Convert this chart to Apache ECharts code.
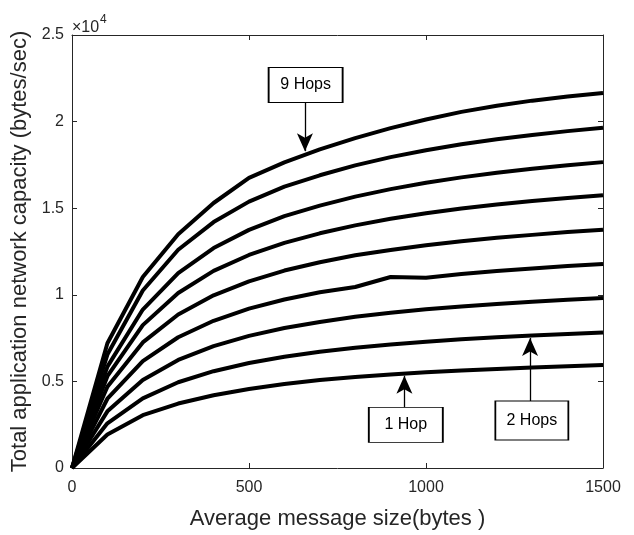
<!DOCTYPE html>
<html>
<head>
<meta charset="utf-8">
<script src="https://cdn.jsdelivr.net/npm/echarts@6/dist/echarts.min.js"></script>
<style>html,body{margin:0;padding:0;background:#fff}#c{width:634px;height:535px}</style>
</head>
<body>
<div id="c"></div>
<script>
// Message sizes (bytes)
const sizes = [0,100,200,300,400,500,600,700,800,900,1000,1100,1200,1300,1400,1500];
// Capacity (bytes/sec) for each hop count
const hop1 = [0,1930,3050,3720,4200,4560,4850,5075,5250,5400,5530,5630,5720,5800,5870,5940];
const hop2 = [0,2580,4020,4950,5590,6060,6420,6710,6940,7130,7290,7430,7550,7650,7740,7820];
const hop3 = [0,3270,5080,6240,7040,7630,8080,8430,8730,8960,9160,9320,9470,9600,9710,9810];
const hop4 = [0,4000,6170,7550,8500,9200,9730,10150,10450,11030,10990,11200,11370,11520,11660,11780];
const hop5 = [0,4690,7250,8860,9970,10780,11400,11880,12280,12590,12860,13090,13290,13460,13620,13750];
const hop6 = [0,5300,8250,10100,11380,12300,13000,13550,14010,14390,14710,14980,15210,15410,15590,15750];
const hop7 = [0,5850,9150,11250,12700,13750,14540,15150,15670,16100,16470,16780,17050,17280,17480,17660];
const hop8 = [0,6550,10250,12600,14200,15380,16250,16900,17470,17950,18350,18690,18980,19230,19450,19640];
const hop9 = [0,7200,11030,13500,15300,16750,17650,18400,19050,19620,20120,20560,20920,21210,21450,21650];
const seriesNames = ['1 Hop','2 Hops','3 Hops','4 Hops','5 Hops','6 Hops','7 Hops','8 Hops','9 Hops'];
const allHops = [hop1,hop2,hop3,hop4,hop5,hop6,hop7,hop8,hop9];
// Axis ticks
const xTicks = [0,500,1000,1500];
const yTickLabels = ['0','0.5','1','1.5','2','2.5'];
// Annotations: label, box centre (data), arrow start (data), arrow tip (data)
const annoLabels = ['9 Hops','1 Hop','2 Hops'];
const annoBox = [[660,22115],[943,2489],[1299,2741]];
const annoFrom = [[658,21109],[939,3506],[1294,3851]];
const annoTo = [[658,18293],[939,5328],[1294,7511]];

const FONT = '"Liberation Sans", Arial, sans-serif';
const AX = '#262626';
const chart = echarts.init(document.getElementById('c'), null, {renderer:'canvas'});

const axisCommon = {
  axisLine:{show:true, onZero:false, lineStyle:{color:AX, width:1}},
  axisTick:{show:true, inside:true, length:5, lineStyle:{color:AX, width:1}},
  splitLine:{show:false}
};

const series = allHops.map((arr, i) => ({
  name: seriesNames[i],
  type:'line',
  data: sizes.map((s, j) => [s, arr[j]]),
  showSymbol:false, symbol:'none',
  lineStyle:{color:'#000', width:4, cap:'butt', join:'round'},
  itemStyle:{color:'#000'},
  z:2, silent:true
}));

series.push({
  name:'annotations', type:'line', data:[], silent:true, z:5,
  markLine:{
    silent:true, symbol:['none','arrow'], symbolSize:15,
    label:{show:false},
    lineStyle:{color:'#000', width:1.3, type:'solid'},
    itemStyle:{color:'#000'},
    data: annoFrom.map((f, i) => [
      {coord:f, symbol:'none'},
      {coord:annoTo[i], symbol:'arrow', symbolSize:[12,18]}
    ])
  },
  markPoint:{
    silent:true, symbol:'rect',
    data: annoLabels.map((t, i) => ({
      coord: annoBox[i], value:t,
      symbolSize: i === 2 ? [73,39] : [74,35]
    })),
    itemStyle:{color:'#fff', borderColor:'#000', borderWidth:1.3},
    label:{show:true, position:'inside', color:'#000', fontSize:16, fontFamily:FONT,
      formatter: p => p.value}
  }
});

chart.setOption({
  animation:false,
  backgroundColor:'#fff',
  grid:{left:72, right:31, top:35, bottom:65, containLabel:false},
  xAxis:[
    Object.assign({
      type:'value', min:0, max:1500, interval:500, position:'bottom',
      axisLabel:{show:true, color:AX, fontSize:16, fontFamily:FONT, margin:12,
        formatter: v => xTicks.indexOf(v) >= 0 ? String(v) : ''},
      name:'Average message size(bytes )', nameLocation:'middle', nameGap:40,
      nameTextStyle:{fontSize:22, color:AX, fontFamily:FONT}
    }, axisCommon),
    Object.assign({
      type:'value', min:0, max:1500, interval:500, position:'top',
      axisLabel:{show:false}
    }, axisCommon)
  ],
  yAxis:[
    Object.assign({
      type:'value', min:0, max:25000, interval:5000, position:'left',
      axisLabel:{show:true, color:AX, fontSize:16, fontFamily:FONT, margin:8,
        formatter: v => yTickLabels[Math.round(v/5000)]},
      name:'Total application network capacity (bytes/sec)', nameLocation:'middle', nameGap:38,
      nameRotate:90,
      nameTextStyle:{fontSize:22, color:AX, fontFamily:FONT}
    }, axisCommon),
    Object.assign({
      type:'value', min:0, max:25000, interval:5000, position:'right',
      axisLabel:{show:false}
    }, axisCommon)
  ],
  graphic:[
    {type:'text', left:72, top:20, style:{text:'×10', fontSize:16, fontFamily:FONT, fill:AX}},
    {type:'text', left:100, top:14, style:{text:'4', fontSize:12, fontFamily:FONT, fill:AX}}
  ],
  series: series
});
</script>
</body>
</html>
